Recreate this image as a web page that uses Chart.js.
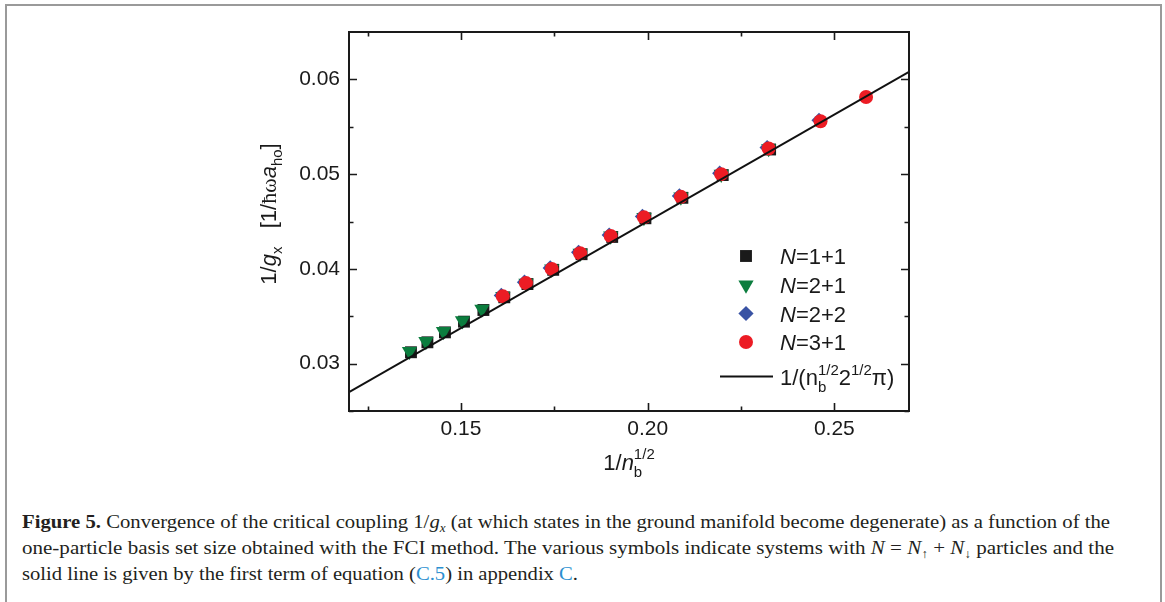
<!DOCTYPE html>
<html>
<head>
<meta charset="utf-8">
<script src="https://cdn.jsdelivr.net/npm/chart.js@4/dist/chart.umd.min.js"></script>
<style>
  html, body { margin: 0; padding: 0; background: #fff; }
  body { width: 1165px; height: 602px; position: relative; overflow: hidden; }
  #frame { position: absolute; left: 5px; top: 4px; width: 1157px; height: 620px;
           border-left: 2px solid #9a9a9a; border-top: 2px solid #9a9a9a; border-right: 2px solid #9a9a9a; box-sizing: border-box; }
  #wrap { position: absolute; left: 0; top: 0; width: 1165px; height: 480px; }
  .cap { position: absolute; left: 22px; white-space: nowrap; font-family: "Liberation Serif", "Times New Roman", serif;
         font-size: 19px; color: #231f20; transform-origin: 0 50%; line-height: 24px; }
  .cap i { font-style: italic; }
  .cap sub { font-size: 12px; vertical-align: -4px; line-height: 0; }
  .lnk { color: #2b8fd0; }
</style>
</head>
<body>
<div id="frame"></div>
<div id="wrap"><canvas id="c" width="1165" height="480"></canvas></div>
<div class="cap" data-w="1088" style="top:510px"><b>Figure 5.</b> Convergence of the critical coupling 1/<i>g</i><sub><i>x</i></sub> (at which states in the ground manifold become degenerate) as a function of the</div>
<div class="cap" data-w="1092" style="top:536px">one-particle basis set size obtained with the FCI method. The various symbols indicate systems with <i>N</i> = <i>N</i><sub>↑</sub> + <i>N</i><sub>↓</sub> particles and the</div>
<div class="cap" data-w="556" style="top:562px">solid line is given by the first term of equation (<span class="lnk">C.5</span>) in appendix <span class="lnk">C</span>.</div>
<script>
// ---- data ----
const xTickValues = [0.15, 0.20, 0.25];
const yTickValues = [0.03, 0.04, 0.05, 0.06];
const seriesLabels = ['N=1+1', 'N=2+1', 'N=2+2', 'N=3+1'];

const n11X = [0.1366, 0.1410, 0.1457, 0.1508, 0.1560, 0.1616, 0.1678, 0.1747, 0.1823, 0.1905, 0.1994, 0.2093, 0.2201, 0.2328];
const n11Y = [0.0312, 0.03225, 0.0333, 0.03443, 0.03566, 0.0370, 0.0384, 0.0399, 0.04155, 0.04337, 0.04534, 0.0475, 0.0499, 0.0526];

const n21X = [0.1362, 0.1406, 0.1453, 0.1504, 0.1556, 0.1612, 0.1674, 0.1743, 0.1819, 0.1901, 0.1990, 0.2089, 0.2197, 0.2324];
const n21Y = [0.0313, 0.03235, 0.0334, 0.03453, 0.03576, 0.0371, 0.0385, 0.0400, 0.04165, 0.04347, 0.04544, 0.0476, 0.0500, 0.0527];

const n22X = [0.1608, 0.1670, 0.1739, 0.1815, 0.1897, 0.1986, 0.2085, 0.2193, 0.2320, 0.2459];
const n22Y = [0.0372, 0.0386, 0.0401, 0.04175, 0.04357, 0.04554, 0.0477, 0.0501, 0.0528, 0.05568];

const n31X = [0.1612, 0.1674, 0.1743, 0.1819, 0.1901, 0.1990, 0.2089, 0.2197, 0.2324, 0.2463, 0.2585];
const n31Y = [0.0371, 0.0385, 0.0400, 0.04165, 0.04347, 0.04544, 0.0476, 0.0500, 0.0527, 0.05558, 0.05814];

const fitX = [0.12, 0.27];
const fitY = [0.0270, 0.0608];

const pts = (xs, ys) => xs.map((x, i) => ({ x: x, y: ys[i] }));

const COL = { sq: '#1a1a1a', tri: '#0b7d3e', dia: '#3953a4', cir: '#ec1c24', line: '#111111' };
const SIZE = { sq: 8.4, tri: 8.8, dia: 7.6, cir: 7 };
const AREA = { left: 349, top: 32, right: 909, bottom: 411 };

function markerPath(ctx, style, x, y, r) {
  ctx.beginPath();
  if (style === 'circle') { ctx.arc(x, y, r, 0, Math.PI * 2); }
  else if (style === 'rect') { const s = r * Math.SQRT1_2; ctx.rect(x - s, y - s, 2 * s, 2 * s); }
  else if (style === 'rectRot') { ctx.moveTo(x, y - r); ctx.lineTo(x + r, y); ctx.lineTo(x, y + r); ctx.lineTo(x - r, y); ctx.closePath(); }
  else if (style === 'triDown') {
    for (let k = 0; k < 3; k++) { const a = Math.PI + k * 2 * Math.PI / 3; const px = x + Math.sin(a) * r, py = y - Math.cos(a) * r; k ? ctx.lineTo(px, py) : ctx.moveTo(px, py); }
    ctx.closePath();
  }
}

function drawRich(ctx, parts, x, y, align) {
  const widths = parts.map(p => {
    ctx.font = p.f;
    if (p.sub !== undefined) return Math.max(ctx.measureText(p.sub).width, ctx.measureText(p.sup).width);
    return ctx.measureText(p.t).width;
  });
  const total = widths.reduce((a, b) => a + b, 0);
  let cx = align === 'center' ? x - total / 2 : (align === 'right' ? x - total : x);
  parts.forEach((p, i) => {
    ctx.font = p.f;
    if (p.sub !== undefined) { ctx.fillText(p.sub, cx, y + p.dsub); ctx.fillText(p.sup, cx, y + p.dsup); }
    else ctx.fillText(p.t, cx, y + (p.dy || 0));
    cx += widths[i];
  });
}

const SANS = '"Liberation Sans", Arial, sans-serif';
const SERIF = '"Liberation Serif", "Times New Roman", serif';

const decor = {
  id: 'decor',
  afterDraw(chart) {
    const ctx = chart.ctx;
    const xs = chart.scales.x, ys = chart.scales.y;
    const a = chart.chartArea;
    ctx.save();
    ctx.strokeStyle = '#1a1a1a';
    ctx.lineWidth = 1.6;
    const xMajor = xTickValues, xMinor = [0.125, 0.175, 0.225];
    const yMajor = yTickValues, yMinor = [0.025, 0.035, 0.045, 0.055];
    ctx.beginPath();
    xMajor.concat(xMinor).forEach(v => {
      const L = xMajor.includes(v) ? 8 : 4.5;
      const px = Math.round(xs.getPixelForValue(v)) + 0.5;
      ctx.moveTo(px, a.bottom); ctx.lineTo(px, a.bottom - L);
      ctx.moveTo(px, a.top); ctx.lineTo(px, a.top + L);
    });
    yMajor.concat(yMinor).forEach(v => {
      const L = yMajor.includes(v) ? 8 : 4.5;
      const py = Math.round(ys.getPixelForValue(v)) + 0.5;
      ctx.moveTo(a.left, py); ctx.lineTo(a.left + L, py);
      ctx.moveTo(a.right, py); ctx.lineTo(a.right - L, py);
    });
    ctx.stroke();
    ctx.lineWidth = 2;
    ctx.strokeRect(a.left, a.top, a.right - a.left, a.bottom - a.top);

    // legend
    ctx.textBaseline = 'alphabetic';
    const rows = [
      { s: 'rect', c: COL.sq, r: SIZE.sq, y: 256 },
      { s: 'triDown', c: COL.tri, r: SIZE.tri, y: 285 },
      { s: 'rectRot', c: COL.dia, r: SIZE.dia, y: 313.5 },
      { s: 'circle', c: COL.cir, r: SIZE.cir, y: 342 }
    ];
    rows.forEach((row, i) => {
      ctx.fillStyle = row.c;
      markerPath(ctx, row.s, 746, row.y, row.r);
      ctx.fill();
      ctx.fillStyle = '#1a1a1a';
      const lab = seriesLabels[i];
      drawRich(ctx, [{ t: lab[0], f: 'italic 22px ' + SANS }, { t: lab.slice(1), f: '22px ' + SANS }], 780, row.y + 8, 'left');
    });
    ctx.strokeStyle = COL.line; ctx.lineWidth = 2;
    ctx.beginPath(); ctx.moveTo(720, 376.5); ctx.lineTo(773, 376.5); ctx.stroke();
    drawRich(ctx, [
      { t: '1/(n', f: '22px ' + SANS },
      { sub: 'b', sup: '1/2', f: '15px ' + SANS, dsub: 7, dsup: -10 },
      { t: '2', f: '22px ' + SANS },
      { t: '1/2', f: '15px ' + SANS, dy: -10 },
      { t: 'π)', f: '22px ' + SANS }
    ], 780, 384.5, 'left');

    // x-axis title
    drawRich(ctx, [
      { t: '1/', f: '22px ' + SANS },
      { t: 'n', f: 'italic 22px ' + SANS },
      { sub: 'b', sup: '1/2', f: '15px ' + SANS, dsub: 7, dsup: -11 }
    ], (a.left + a.right) / 2, 470, 'center');

    // y-axis title (rotated)
    ctx.translate(276, 214);
    ctx.rotate(-Math.PI / 2);
    drawRich(ctx, [
      { t: '1/', f: '22px ' + SANS },
      { t: 'g', f: 'italic 22px ' + SANS },
      { t: 'x', f: '15px ' + SANS, dy: 6 },
      { t: '   [1/', f: '22px ' + SANS },
      { t: 'ħω', f: '22px ' + SERIF },
      { t: 'a', f: 'italic 22px ' + SANS },
      { t: 'ho', f: '15px ' + SANS, dy: 6 },
      { t: ']', f: '22px ' + SANS }
    ], 0, 0, 'center');
    ctx.restore();
  }
};

const ds = (label, xs, ys, style, color, r, order) => ({
  label, data: pts(xs, ys), pointStyle: style === 'triDown' ? 'triangle' : style,
  rotation: style === 'triDown' ? 180 : 0, pointRadius: r, pointHoverRadius: r,
  backgroundColor: color, borderColor: color, pointBorderWidth: 0, showLine: false, order
});

new Chart(document.getElementById('c'), {
  type: 'scatter',
  data: {
    datasets: [
      { type: 'line', label: 'fit', data: pts(fitX, fitY), borderColor: COL.line, borderWidth: 2, pointRadius: 0, fill: false, order: 0 },
      ds(seriesLabels[3], n31X, n31Y, 'circle', COL.cir, SIZE.cir, 1),
      ds(seriesLabels[2], n22X, n22Y, 'rectRot', COL.dia, SIZE.dia, 2),
      ds(seriesLabels[1], n21X, n21Y, 'triDown', COL.tri, SIZE.tri, 3),
      ds(seriesLabels[0], n11X, n11Y, 'rect', COL.sq, SIZE.sq, 4)
    ]
  },
  options: {
    responsive: false, animation: false, devicePixelRatio: 1,
    layout: { padding: { left: AREA.left - 60, right: 1165 - AREA.right, top: AREA.top, bottom: 480 - AREA.bottom - 40 } },
    plugins: { legend: { display: false }, tooltip: { enabled: false } },
    scales: {
      x: {
        type: 'linear', min: 0.12, max: 0.27,
        grid: { display: false, drawTicks: false }, border: { display: false },
        afterBuildTicks: s => { s.ticks = xTickValues.map(v => ({ value: v })); },
        afterFit: s => { s.height = 40; },
        ticks: { padding: 6, color: '#1a1a1a', font: { family: SANS, size: 21 }, callback: v => v.toFixed(2) }
      },
      y: {
        type: 'linear', min: 0.025, max: 0.065,
        grid: { display: false, drawTicks: false }, border: { display: false },
        afterBuildTicks: s => { s.ticks = yTickValues.map(v => ({ value: v })); },
        afterFit: s => { s.width = 60; },
        ticks: { padding: 9, color: '#1a1a1a', font: { family: SANS, size: 21 }, callback: v => v.toFixed(2) }
      }
    }
  },
  plugins: [decor]
});

document.querySelectorAll('.cap').forEach(el => {
  const w = el.getBoundingClientRect().width;
  el.style.transform = 'scaleX(' + (+el.dataset.w / w) + ')';
});
</script>
</body>
</html>
